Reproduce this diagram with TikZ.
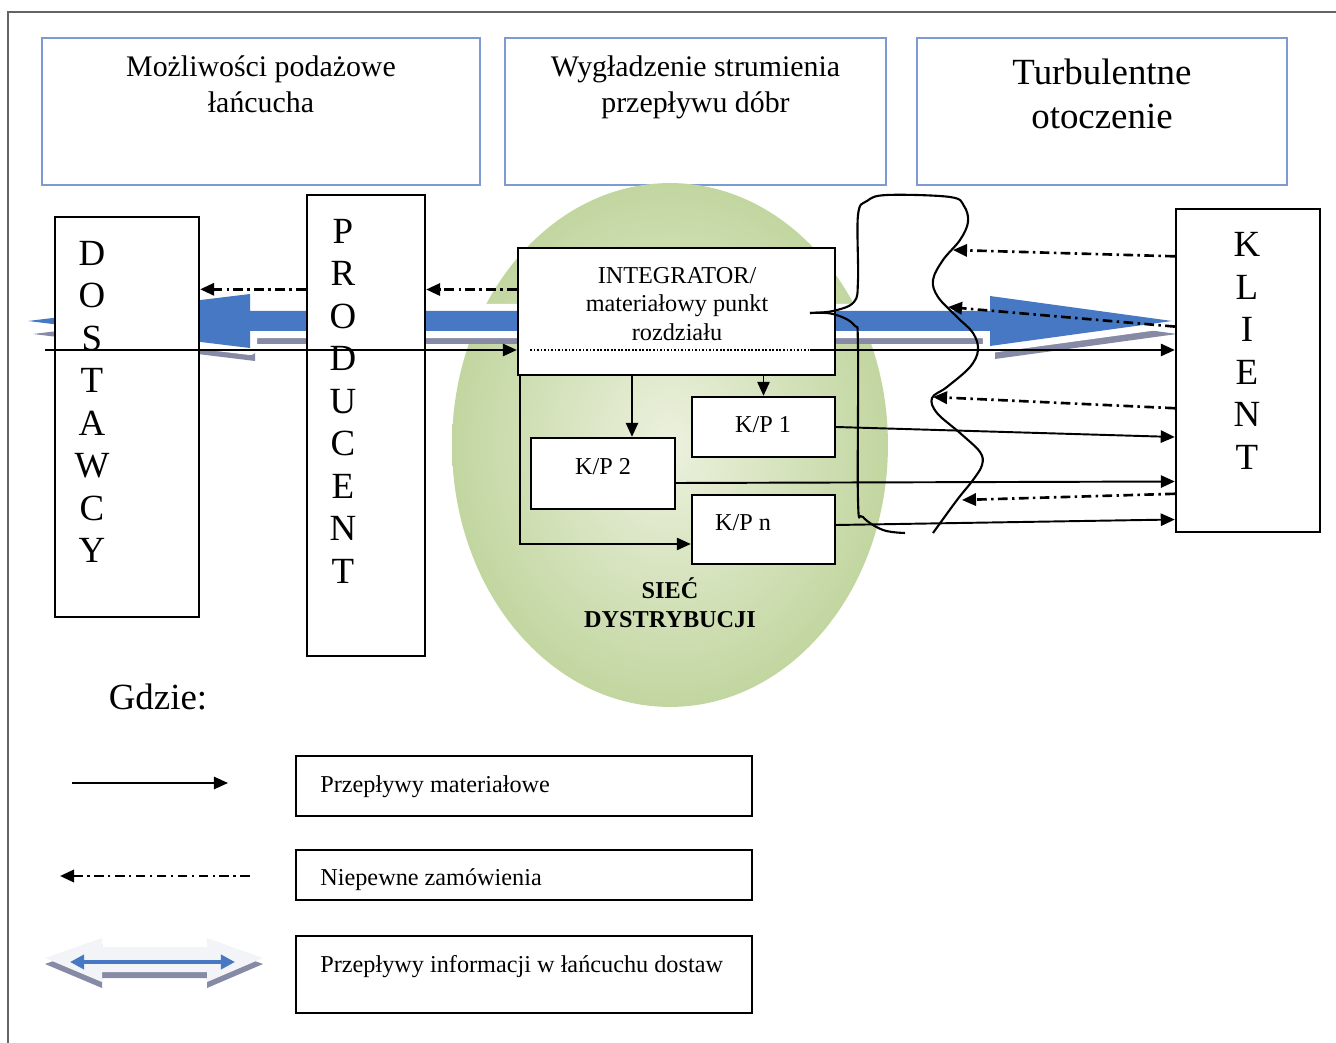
\documentclass[tikz,border=0pt]{standalone}
\usepackage{fontspec}
\setmainfont{Liberation Serif}
\usetikzlibrary{positioning,calc,arrows.meta}
\definecolor{topblue}{RGB}{125,155,210}
\definecolor{infoblue}{RGB}{70,120,195}
\definecolor{shadowgray}{RGB}{135,138,165}
\definecolor{ellin}{RGB}{236,241,222}
\definecolor{ellout}{RGB}{194,214,160}
\definecolor{framegray}{RGB}{100,100,100}
\definecolor{legendwhite}{RGB}{243,244,248}
\newcommand{\infopath}{(28,321) -- (250,294) -- (250,311) -- (990,311) -- (990,296) -- (1172,321) -- (990,346) -- (990,331) -- (250,331) -- (250,348) -- cycle}
\newcommand{\legendpath}{(45,964) -- (102,944) -- (102,953) -- (207,953) -- (207,944) -- (263,964) -- (207,988) -- (207,978) -- (102,978) -- (102,988) -- cycle}
\begin{document}
\begin{tikzpicture}[x=0.02cm,y=-0.02cm,
    main node/.style={rectangle,draw,line width=1.35pt,fill=white,inner sep=0pt},
    top node/.style={rectangle,draw=topblue,line width=1.3pt,fill=white,minimum height=2.94cm},
    top text/.style={align=center,inner sep=0pt,font=\fontsize{17}{20.4}\selectfont},
    letters/.style={align=center,inner sep=0pt,font=\fontsize{21}{24.2}\selectfont},
    small text/.style={align=center,inner sep=0pt,font=\fontsize{13.8}{16.2}\selectfont},
    legend text/.style={anchor=base west,inner sep=0pt,font=\fontsize{13.8}{16.2}\selectfont},
    material/.style={-{Triangle[length=8pt,width=7pt]},line width=1.1pt},
    order/.style={-{Triangle[length=8pt,width=7pt]},line width=1.5pt,dash pattern=on 5.5pt off 2.5pt on 1.4pt off 2.5pt}]

    \useasboundingbox (0,0) rectangle (1336,1043);
    \draw[framegray,line width=0.8pt] (8,1043) -- (8,12) -- (1336,12);

    % top row
    \node[top node,minimum width=8.76cm] (t1) at (261,111.5) {};
    \node[top node,minimum width=7.62cm] (t2) at (695.5,111.5) {};
    \node[top node,minimum width=7.4cm] (t3) at (1102,111.5) {};
    \node[top text,below=0.38cm of t1.north] (t1t) {Możliwości podażowe\\łańcucha};
    \node[top text,below=0.38cm of t2.north] (t2t) {Wygładzenie strumienia\\przepływu dóbr};
    \node[top text,font=\fontsize{21}{25}\selectfont,below=0.44cm of t3.north] (t3t) {Turbulentne\\otoczenie};

    % distribution network and information flow
    \shade[inner color=ellin,outer color=ellout] (670,445) ellipse [x radius=4.36cm,y radius=5.24cm];
    \fill[shadowgray,shift={(5,13)}] \infopath;
    \fill[infoblue,preaction={draw=white,line width=8pt,line join=round}] \infopath;

    \node[main node,minimum width=2.88cm,minimum height=8cm] (dost) at (127,417) {};
    \node[main node,minimum width=2.36cm,minimum height=9.22cm] (prod) at (366,425.5) {};
    \node[main node,minimum width=2.88cm,minimum height=6.46cm] (klient) at (1248,370.5) {};
    \node[main node,minimum width=6.34cm,minimum height=2.54cm] (integ) at (676.5,311.5) {};
    \node[main node,minimum width=2.86cm,minimum height=1.2cm] (kp1) at (763.5,427) {};
    \node[main node,minimum width=2.88cm,minimum height=1.42cm] (kp2) at (603,473.5) {};
    \node[main node,minimum width=2.86cm,minimum height=1.38cm] (kpn) at (763.5,529.5) {};

    \node[letters] (dostt) at (92,402) {D\\O\\S\\T\\A\\W\\C\\Y};
    \node[letters] (prodt) at (343,401) {P\\R\\O\\D\\U\\C\\E\\N\\T};
    \node[letters] (klientt) at (1247,351) {K\\L\\I\\E\\N\\T};
    \node[small text] (integt) at (677,304) {INTEGRATOR/\\materiałowy punkt\\rozdziału};
    \node[small text] (kp1t) at (763,425) {K/P 1};
    \node[small text] (kp2t) at (603,467) {K/P 2};
    \node[small text] (kpnt) at (743,523) {K/P n};
    \node[small text,font=\fontsize{13.8}{16.4}\selectfont\bfseries] (siec) at (670,603) {SIEĆ\\DYSTRYBUCJI};

    % material flows
    \coordinate (in0) at (45,350);
    \coordinate (d0) at (530,350);
    \coordinate (d1) at (810,350);
    \draw[material] (in0) -- (in0 -| integ.west);
    \draw[densely dotted,line width=1pt] (d0) -- (d1);
    \draw[material] (d1) -- (d1 -| klient.west);
    \coordinate (k2in) at ([xshift=0.58cm]kp2.north);
    \draw[material] (integ.south -| k2in) -- (k2in);
    \draw[material] (integ.south -| kp1.north) -- (kp1.north);
    \draw[material] ([xshift=0.06cm]integ.south west) |- ([yshift=-0.29cm]kpn.west);
    \draw[material] (kp1.east) -- ($(klient.west |- kp1.east)+(0,10)$);
    \draw[material] ([yshift=-0.19cm]kp2.east) -- ($(klient.west |- kp2.east)+(0,8)$);
    \draw[material] ([yshift=0.09cm]kpn.east) -- ($(klient.west |- kpn.east)+(0,-10)$);

    % uncertain orders
    \coordinate (o1) at ($(prod.north west)!0.206!(prod.south west)$);
    \coordinate (o2) at ($(integ.north west)!0.33!(integ.south west)$);
    \draw[order] (o1) -- (o1 -| dost.east);
    \draw[order] (o2) -- (o2 -| prod.east);
    \coordinate (w1) at (953,250);
    \coordinate (w2) at (948,307);
    \coordinate (w3) at (933,397);
    \coordinate (w4) at (962,500);
    \draw[order] ($(klient.north west)!0.149!(klient.south west)$) -- (w1);
    \draw[order] ($(klient.north west)!0.365!(klient.south west)$) -- (w2);
    \draw[order] ($(klient.north west)!0.616!(klient.south west)$) -- (w3);
    \draw[order] ($(klient.north west)!0.879!(klient.south west)$) -- (w4);

    % turbulent environment
    \draw[line width=1.2pt] plot[smooth,tension=0.6] coordinates {(905,533) (883,530) (863,517) (858,500) (858,347) (854,325) (833,314) (810,313)};
    \draw[line width=1.2pt] plot[smooth,tension=0.6] coordinates {(810,313) (833,311) (854,302) (858,280) (858,215) (867,201) (887,195) (950,197) (964,206) (968,222) (960,240) (943,260) (933,280) (938,297) (957,317) (973,333) (978,350) (970,367) (947,387) (932,398) (937,413) (960,433) (980,452) (982,465) (973,480) (957,500) (933,533)};

    % legend
    \node[inner sep=0pt,font=\fontsize{21}{25}\selectfont] (gdzie) at (158,697) {Gdzie:};
    \node[main node,minimum width=9.12cm,minimum height=1.2cm] (l1) at (524,786) {};
    \node[main node,minimum width=9.12cm,minimum height=1cm] (l2) at (524,875) {};
    \node[main node,minimum width=9.12cm,minimum height=1.54cm] (l3) at (524,974.5) {};
    \node[legend text] (l1t) at (320,792) {Przepływy materiałowe};
    \node[legend text] (l2t) at (320,885) {Niepewne zamówienia};
    \node[legend text] (l3t) at (320,972) {Przepływy informacji w łańcuchu dostaw};

    \coordinate (m0) at (72,783);
    \coordinate (m1) at (228,783);
    \draw[material] (m0) -- (m1);
    \coordinate (n0) at (250,876);
    \coordinate (n1) at (60,876);
    \draw[order] (n0) -- (n1);
    \fill[shadowgray] \legendpath;
    \fill[legendwhite,shift={(0,-6)}] \legendpath;
    \coordinate (i0) at (70,962);
    \coordinate (i1) at (235,962);
    \draw[infoblue,line width=2.2pt,{Triangle[length=8pt,width=8pt]}-{Triangle[length=8pt,width=8pt]}] (i0) -- (i1);
\end{tikzpicture}
\end{document}
